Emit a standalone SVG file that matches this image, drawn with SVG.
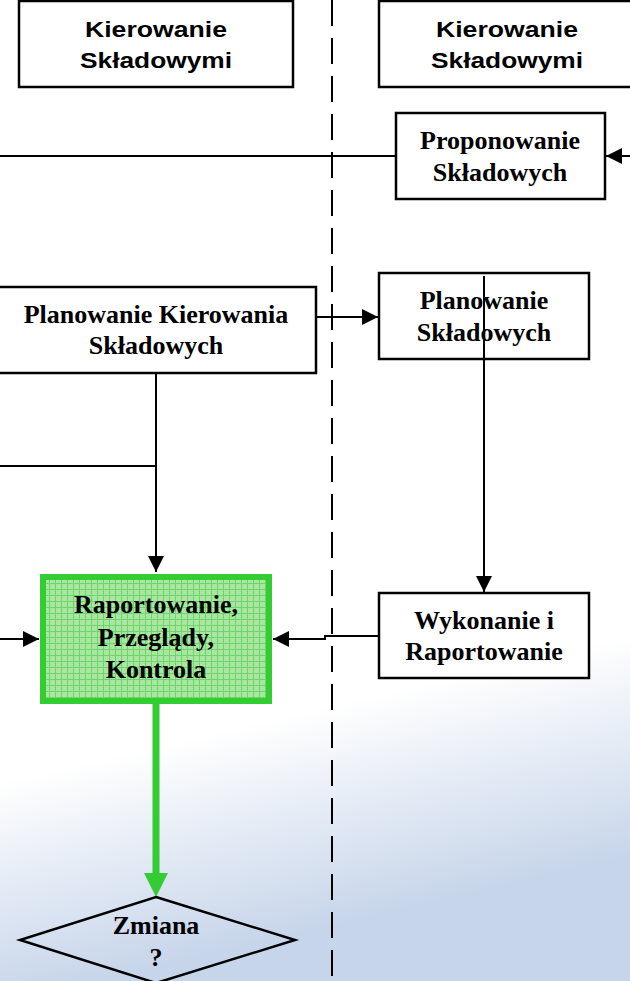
<svg xmlns="http://www.w3.org/2000/svg" width="630" height="981" viewBox="0 0 630 981">
<defs>
<linearGradient id="bg" x1="0" y1="0" x2="0.15" y2="1">
<stop offset="0" stop-color="#ffffff"/>
<stop offset="0.78" stop-color="#ffffff"/>
<stop offset="1" stop-color="#c7d5ea"/>
</linearGradient>
<pattern id="grid" width="6" height="6" patternUnits="userSpaceOnUse" x="43" y="577">
<rect width="6" height="6" fill="#a8e6a2"/>
<path d="M0 0.5H6M0.5 0V6" stroke="#6fd46a" stroke-width="1"/>
</pattern>
<marker id="ah" viewBox="0 0 10 10" refX="10" refY="5" markerWidth="8" markerHeight="8" orient="auto" markerUnits="strokeWidth">
<path d="M0 0L10 5L0 10Z" fill="#000"/>
</marker>
</defs>
<style>
.box{fill:#fff;stroke:#000;stroke-width:2.5}
.hdr{font-family:"Liberation Sans",Arial,sans-serif;font-weight:bold;font-size:22.5px;text-anchor:middle;fill:#000}
.lbl{font-family:"Liberation Serif","Times New Roman",serif;font-weight:bold;font-size:26px;text-anchor:middle;fill:#000}
.ln{fill:none;stroke:#000;stroke-width:2}
</style>
<rect width="630" height="981" fill="url(#bg)"/>
<g id="connectors">
<line x1="332" y1="0" x2="332" y2="981" stroke="#000" stroke-width="2" stroke-dasharray="26 12"/>
<line class="ln" x1="0" y1="156" x2="396" y2="156"/>
<line class="ln" x1="630" y1="156" x2="606" y2="156" marker-end="url(#ah)"/>
<line class="ln" x1="316" y1="317" x2="378" y2="317" marker-end="url(#ah)"/>
<line class="ln" x1="484" y1="276" x2="484" y2="592" marker-end="url(#ah)"/>
<polyline class="ln" points="156,373 156,466 0,466"/>
<line class="ln" x1="156" y1="466" x2="156" y2="572" marker-end="url(#ah)"/>
<line class="ln" x1="0" y1="639" x2="39" y2="639" marker-end="url(#ah)"/>
<polyline class="ln" points="379,636 325,636 325,639 273,639" marker-end="url(#ah)"/>
<line x1="156" y1="704" x2="156" y2="874" stroke="#33cc33" stroke-width="7"/>
<path d="M144 873L168 873L156 897Z" fill="#33cc33"/>
</g>
<g id="hdr-left">
<rect class="box" x="19" y="1" width="274" height="86"/>
<text class="hdr" x="156" y="37" textLength="142" lengthAdjust="spacingAndGlyphs">Kierowanie</text>
<text class="hdr" x="156" y="68" textLength="152" lengthAdjust="spacingAndGlyphs">Składowymi</text>
</g>
<g id="hdr-right">
<rect class="box" x="379" y="1" width="260" height="86"/>
<text class="hdr" x="507" y="37" textLength="142" lengthAdjust="spacingAndGlyphs">Kierowanie</text>
<text class="hdr" x="507" y="68" textLength="152" lengthAdjust="spacingAndGlyphs">Składowymi</text>
</g>
<g id="proponowanie">
<rect class="box" x="396" y="113" width="209" height="86"/>
<text class="lbl" x="500" y="149">Proponowanie</text>
<text class="lbl" x="500" y="181">Składowych</text>
</g>
<g id="planowanie-kierowania">
<rect class="box" x="-4" y="287" width="320" height="86"/>
<text class="lbl" x="156" y="323">Planowanie Kierowania</text>
<text class="lbl" x="156" y="354">Składowych</text>
</g>
<g id="planowanie-skladowych">
<rect class="box" x="379" y="273" width="210" height="86"/>
<text class="lbl" x="484" y="309">Planowanie</text>
<text class="lbl" x="484" y="341">Składowych</text>
<line class="ln" x1="484" y1="276" x2="484" y2="359"/>
</g>
<g id="raportowanie">
<rect x="43" y="577" width="226" height="124" fill="url(#grid)" stroke="#33cc33" stroke-width="6"/>
<text class="lbl" x="156" y="613">Raportowanie,</text>
<text class="lbl" x="156" y="646">Przeglądy,</text>
<text class="lbl" x="156" y="678">Kontrola</text>
</g>
<g id="wykonanie">
<rect class="box" x="379" y="593" width="210" height="85"/>
<text class="lbl" x="484" y="629">Wykonanie i</text>
<text class="lbl" x="484" y="660">Raportowanie</text>
</g>
<g id="zmiana">
<polygon points="156,897 295,940 156,983 20,940" fill="none" stroke="#000" stroke-width="2.5"/>
<text class="lbl" x="156" y="934">Zmiana</text>
<text class="lbl" x="156" y="966">?</text>
</g>
</svg>
